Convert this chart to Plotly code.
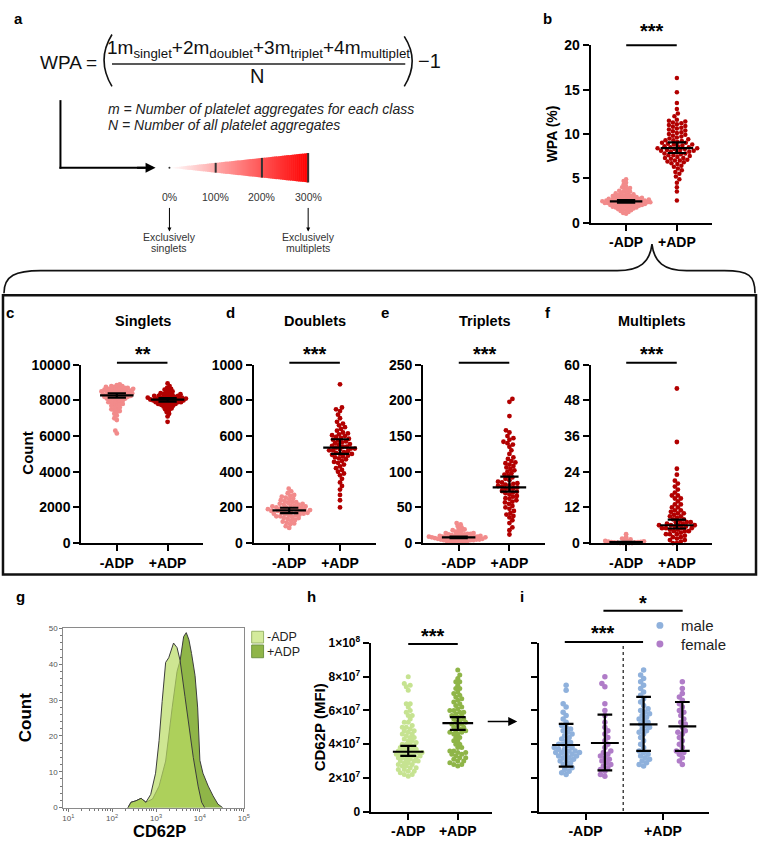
import math
import plotly.graph_objects as go

W, H = 764, 848
FONT = "Liberation Sans, Arial, sans-serif"


def X(p):
    return p / W


def Y(p):
    return 1 - p / H


# ---------------- data ----------------
groups = ["-ADP", "+ADP"]

# b: WPA (%)
wpa_minus = [1.0, 1.1, 1.2, 1.3, 1.4, 1.4, 1.5, 1.5, 1.6, 1.6, 1.7, 1.7, 1.7, 1.8, 1.8, 1.8, 1.9, 1.9, 1.9,
             2.0, 2.0, 2.0, 2.0, 2.1, 2.1, 2.1, 2.1, 2.2, 2.2, 2.2, 2.2, 2.2, 2.3, 2.3, 2.3, 2.3, 2.3, 2.4,
             2.4, 2.4, 2.4, 2.4, 2.5, 2.5, 2.5, 2.5, 2.5, 2.6, 2.6, 2.6, 2.6, 2.7, 2.7, 2.7, 2.7, 2.8, 2.8,
             2.8, 2.9, 2.9, 2.9, 3.0, 3.0, 3.0, 3.1, 3.1, 3.2, 3.2, 3.3, 3.3, 3.4, 3.5, 3.5, 3.6, 3.7, 3.8,
             3.9, 4.0, 4.1, 4.3, 4.5, 4.7, 4.9]
wpa_plus = [2.5, 3.5, 4.0, 4.5, 4.9, 5.2, 5.5, 5.7, 5.9, 6.1, 6.3, 6.4, 6.6, 6.7, 6.8, 6.9, 7.0, 7.0, 7.1,
            7.2, 7.3, 7.3, 7.4, 7.5, 7.6, 7.6, 7.7, 7.8, 7.8, 7.9, 8.0, 8.0, 8.1, 8.1, 8.2, 8.2, 8.3, 8.3,
            8.4, 8.4, 8.5, 8.5, 8.6, 8.6, 8.7, 8.8, 8.8, 8.9, 9.0, 9.0, 9.1, 9.2, 9.3, 9.3, 9.4, 9.5, 9.6,
            9.7, 9.8, 9.9, 10.0, 10.1, 10.2, 10.3, 10.4, 10.5, 10.6, 10.7, 10.8, 10.9, 11.0, 11.1, 11.2,
            11.3, 11.4, 11.5, 11.6, 12.0, 12.3, 12.8, 13.5, 14.7, 16.3]
wpa_center = [2.4, 8.4]
wpa_lo = [2.25, 7.85]
wpa_hi = [2.55, 9.05]

# c: singlets
singlets_minus = [6150, 6300, 6900, 7000, 7150, 7250, 7350, 7400, 7450, 7500, 7550, 7600, 7650, 7700, 7750,
                  7800, 7800, 7850, 7900, 7900, 7950, 8000, 8000, 8050, 8050, 8100, 8100, 8150, 8150, 8200,
                  8200, 8200, 8250, 8250, 8250, 8300, 8300, 8300, 8350, 8350, 8350, 8400, 8400, 8400, 8450,
                  8450, 8450, 8500, 8500, 8500, 8550, 8550, 8550, 8600, 8600, 8600, 8650, 8650, 8650, 8700,
                  8700, 8700, 8750, 8750, 8800, 8800, 8850, 8900]
singlets_plus = [6800, 7100, 7250, 7350, 7450, 7500, 7550, 7600, 7650, 7700, 7700, 7750, 7750, 7800, 7800,
                 7850, 7850, 7850, 7900, 7900, 7900, 7950, 7950, 7950, 8000, 8000, 8000, 8000, 8050, 8050,
                 8050, 8050, 8100, 8100, 8100, 8100, 8150, 8150, 8150, 8200, 8200, 8200, 8250, 8250, 8250,
                 8300, 8300, 8350, 8350, 8400, 8400, 8450, 8500, 8550, 8600, 8650, 8700, 8800, 8950]
singlets_center = [8280, 8040]
singlets_lo = [8150, 7930]
singlets_hi = [8400, 8130]

# d: doublets
doublets_minus = [85, 95, 105, 110, 115, 120, 125, 130, 135, 140, 140, 145, 150, 150, 155, 155, 160, 160, 165,
                  165, 170, 170, 170, 175, 175, 180, 180, 180, 185, 185, 185, 190, 190, 190, 195, 195, 200,
                  200, 200, 205, 205, 210, 210, 215, 215, 220, 220, 225, 230, 230, 235, 240, 245, 250, 255,
                  260, 265, 270, 280, 290, 305]
doublets_plus = [200, 240, 270, 300, 320, 340, 360, 380, 390, 400, 410, 420, 430, 440, 450, 455, 460, 470,
                 475, 480, 485, 490, 495, 500, 500, 505, 510, 515, 520, 520, 525, 530, 530, 535, 540, 540,
                 545, 550, 555, 560, 565, 570, 575, 580, 585, 590, 595, 600, 605, 610, 615, 620, 630, 640,
                 650, 660, 670, 680, 700, 720, 740, 750, 760, 890]
doublets_center = [183, 535]
doublets_lo = [168, 500]
doublets_hi = [198, 582]

# e: triplets
triplets_minus = [0, 1, 1, 2, 2, 3, 3, 3, 4, 4, 4, 5, 5, 5, 5, 6, 6, 6, 6, 7, 7, 7, 7, 8, 8, 8, 8, 8, 9, 9,
                  9, 9, 10, 10, 10, 11, 11, 11, 12, 12, 13, 13, 14, 14, 15, 16, 17, 18, 19, 20, 22, 24, 26, 28]
triplets_plus = [12, 18, 22, 28, 32, 36, 38, 40, 42, 45, 48, 50, 52, 55, 57, 58, 60, 62, 63, 65, 66, 68, 70,
                 71, 72, 73, 75, 76, 77, 78, 79, 80, 81, 82, 83, 84, 85, 86, 88, 90, 92, 94, 96, 98, 100, 102,
                 104, 106, 108, 110, 112, 113, 115, 118, 120, 125, 130, 135, 138, 140, 142, 145, 147, 150,
                 155, 158, 178, 198, 202]
triplets_center = [8, 78]
triplets_lo = [7, 72]
triplets_hi = [9, 93]

# f: multiplets
multiplets_minus = [0, 0, 0, 0, 0, 0.1, 0.2, 0.2, 0.3, 0.3, 0.4, 0.5, 0.6, 0.7, 0.8, 1.0, 1.2, 1.5, 2.0, 3.0]
multiplets_plus = [0, 0, 0.5, 1, 1, 1.5, 2, 2, 2.5, 3, 3, 3, 3.5, 4, 4, 4, 4.5, 4.5, 5, 5, 5, 5, 5.5, 5.5,
                   6, 6, 6, 6, 6.5, 6.5, 7, 7, 7, 7.5, 8, 8, 8.5, 9, 9, 9.5, 10, 10, 10.5, 11, 11, 12, 12,
                   13, 13, 14, 15, 15, 16, 16, 17, 18, 19, 20, 21, 23, 25, 34, 52]
multiplets_center = [0.3, 6.0]
multiplets_lo = [0.2, 4.9]
multiplets_hi = [0.4, 7.9]

# g: CD62P histogram (log10 fluorescence, count)
hist_logx_minus = [2.36, 2.43, 2.54, 2.66, 2.77, 2.88, 2.99, 3.07, 3.14, 3.22, 3.29, 3.40, 3.48, 3.55, 3.66,
                   3.74, 3.85, 3.96, 4.04, 4.11]
hist_count_minus = [0, 1.5, 1.9, 2.6, 1.5, 3.7, 9.6, 18.7, 29.6, 40.5, 41.8, 45.9, 44.6, 41, 31, 24, 14, 6,
                    1.5, 0]
hist_logx_plus = [2.36, 2.43, 2.54, 2.66, 2.77, 2.92, 3.07, 3.22, 3.37, 3.48, 3.55, 3.63, 3.69, 3.75, 3.81,
                  3.89, 3.95, 4.00, 4.07, 4.19, 4.30, 4.41, 4.52]
hist_count_plus = [0, 1.5, 1.9, 2.6, 1.5, 2.4, 6, 13, 28, 38, 41, 47.7, 48.8, 46.8, 43, 36.8, 27.8, 13.2,
                   9.6, 6, 3.3, 1, 0]

# i / h: CD62P MFI (x 1e7) split by sex
male_minus = [2.2, 2.3, 2.4, 2.5, 2.6, 2.7, 2.8, 2.9, 3.0, 3.0, 3.1, 3.2, 3.2, 3.3, 3.3, 3.4, 3.4, 3.5, 3.5,
              3.5, 3.6, 3.6, 3.7, 3.7, 3.8, 3.8, 3.9, 4.0, 4.0, 4.1, 4.2, 4.3, 4.4, 4.5, 4.6, 4.7, 4.8, 4.9,
              5.0, 5.1, 5.3, 5.5, 5.7, 5.9, 6.2, 6.4, 7.2, 7.5]
female_minus = [2.1, 2.2, 2.4, 2.5, 2.6, 2.7, 2.8, 2.9, 3.0, 3.1, 3.2, 3.3, 3.4, 3.5, 3.6, 3.8, 4.0, 4.2,
                4.4, 4.6, 4.8, 5.0, 5.3, 5.7, 6.0, 6.4, 7.4, 7.6, 8.0]
male_plus = [2.7, 2.8, 2.9, 3.0, 3.1, 3.2, 3.3, 3.4, 3.5, 3.6, 3.8, 4.0, 4.2, 4.4, 4.6, 4.7, 4.8, 4.9, 5.0,
             5.1, 5.2, 5.3, 5.4, 5.5, 5.6, 5.7, 5.8, 5.9, 6.0, 6.1, 6.3, 6.5, 6.7, 6.9, 7.1, 7.3, 7.5, 7.7,
             7.9, 8.1, 8.4]
female_plus = [2.8, 3.0, 3.2, 3.4, 3.5, 3.6, 3.8, 4.0, 4.2, 4.4, 4.6, 4.7, 4.8, 5.0, 5.2, 5.3, 5.5, 5.7,
               5.9, 6.0, 6.2, 6.4, 6.6, 6.8, 7.0, 7.3, 7.7]
mfi_center = [3.55, 5.25]
mfi_lo = [3.3, 4.85]
mfi_hi = [3.9, 5.6]
sex_mean = [3.95, 4.07, 5.17, 5.06]
sex_sd_lo = [2.67, 2.44, 3.6, 3.6]
sex_sd_hi = [5.2, 5.75, 6.8, 6.5]

mfi_ticks = [0, 2, 4, 6, 8, 10]
mfi_ticktext = ["0", "2×10<sup>7</sup>", "4×10<sup>7</sup>", "6×10<sup>7</sup>", "8×10<sup>7</sup>",
                "1×10<sup>8</sup>"]
wedge_labels = ["0%", "100%", "200%", "300%"]

# ---------------- colours ----------------
C_LIGHT_RED = "#f28b8b"
C_DARK_RED = "#b20000"
C_LIGHT_GREEN = "#c6e391"
C_DARK_GREEN = "#8fb548"
C_BLUE = "#8fb1dc"
C_PURPLE = "#b07cc8"

fig = go.Figure()
lay = {}
annotations = []
shapes = []


def axis_pair(n, x0, x1, y0, y1, xr, yr, ytickvals, yticktext=None, xtickvals=(0, 1), xticktext=groups,
              ytl=True):
    s = "" if n == 1 else str(n)
    tf = dict(family=FONT, size=14, color="black", weight="bold")
    lay["xaxis" + s] = dict(domain=[X(x0), X(x1)], range=xr, anchor="y" + s, showline=True, linecolor="black",
                            linewidth=2, ticks="outside", ticklen=6, tickwidth=2, tickcolor="black",
                            tickvals=list(xtickvals), ticktext=list(xticktext), tickfont=tf, showgrid=False,
                            zeroline=False, fixedrange=True)
    if yticktext is None:
        yticktext = [str(v) for v in ytickvals]
    lay["yaxis" + s] = dict(domain=[Y(y1), Y(y0)], range=yr, anchor="x" + s, showline=True, linecolor="black",
                            linewidth=2, ticks="outside", ticklen=6, tickwidth=2, tickcolor="black",
                            tickvals=list(ytickvals), ticktext=list(yticktext), tickfont=tf, showgrid=False,
                            zeroline=False, fixedrange=True, showticklabels=ytl)
    return (x1 - x0) / (xr[1] - xr[0]), (y1 - y0) / (yr[1] - yr[0])


def swarm(values, center, ppx, ppy, d):
    idx = sorted(range(len(values)), key=lambda i: values[i])
    placed = []
    out = [0.0] * len(values)
    for n, i in enumerate(idx):
        yv = values[i] * ppy
        near = [(a, b) for (a, b) in placed if abs(b - yv) < d]
        best = None
        k = 0
        sign = 1 if n % 2 == 0 else -1
        while best is None:
            cands = [0.0] if k == 0 else [sign * k * 0.5, -sign * k * 0.5]
            for off in cands:
                if all((off - a) ** 2 + (yv - b) ** 2 >= d * d for a, b in near):
                    best = off
                    break
            k += 1
        placed.append((best, yv))
        out[i] = center + best / ppx
    return out


def add_swarm(n, values, center, ppx, ppy, color, size=4.5, d=3.0):
    s = "" if n == 1 else str(n)
    xs = swarm(values, center, ppx, ppy, d)
    fig.add_trace(go.Scatter(x=xs, y=values, xaxis="x" + s, yaxis="y" + s, mode="markers",
                             marker=dict(size=size, color=color, line=dict(width=0)), cliponaxis=False,
                             hoverinfo="skip"))


def add_errbar(n, center, mid, lo, hi, half_w, cap_w, width=2.2):
    s = "" if n == 1 else str(n)
    xs = [center - half_w, center + half_w, None, center, center, None, center - cap_w, center + cap_w, None,
          center - cap_w, center + cap_w]
    ys = [mid, mid, None, lo, hi, None, lo, lo, None, hi, hi]
    fig.add_trace(go.Scatter(x=xs, y=ys, xaxis="x" + s, yaxis="y" + s, mode="lines",
                             line=dict(color="black", width=width), cliponaxis=False, hoverinfo="skip"))


def text(x, y, t, size=14, bold=False, color="black", xanchor="center", angle=0):
    annotations.append(dict(x=X(x), y=Y(y), xref="paper", yref="paper", text=t, showarrow=False,
                            xanchor=xanchor, yanchor="middle", textangle=angle,
                            font=dict(family=FONT, size=size, color=color,
                                      weight="bold" if bold else "normal")))


def hline(x0, x1, y, width=2, color="black", dash="solid"):
    shapes.append(dict(type="line", xref="paper", yref="paper", x0=X(x0), x1=X(x1), y0=Y(y), y1=Y(y),
                       line=dict(width=width, color=color, dash=dash)))


def vline(x, y0, y1, width=2, color="black", dash="solid"):
    shapes.append(dict(type="line", xref="paper", yref="paper", x0=X(x), x1=X(x), y0=Y(y0), y1=Y(y1),
                       line=dict(width=width, color=color, dash=dash)))


def P(x, y):
    return f"{X(x):.5f},{Y(y):.5f}"


def path(d, width=1.5, color="black", fill=None):
    sh = dict(type="path", xref="paper", yref="paper", path=d, line=dict(width=width, color=color))
    if fill:
        sh["fillcolor"] = fill
    shapes.append(sh)


def arrow(xh, yh, ax, ay, width=2, size=1.0, head=2):
    annotations.append(dict(x=X(xh), y=Y(yh), xref="paper", yref="paper", text="", showarrow=True, ax=ax, ay=ay,
                            arrowhead=head, arrowsize=size, arrowwidth=width, arrowcolor="black"))


XR = [-0.7, 1.7]

# ---------------- panel b ----------------
ppx, ppy = axis_pair(1, 595, 718, 37, 218, XR, [0, 20], [0, 5, 10, 15, 20])
add_swarm(1, wpa_minus, 0, ppx, ppy, C_LIGHT_RED, size=4.5, d=3.0)
add_swarm(1, wpa_plus, 1, ppx, ppy, C_DARK_RED, size=4.5, d=4.2)
for k in range(2):
    add_errbar(1, k, wpa_center[k], wpa_lo[k], wpa_hi[k], 0.32, 0.18)

# ---------------- panels c-f ----------------
cf = [
    (2, 81, singlets_minus, singlets_plus, singlets_center, singlets_lo, singlets_hi, [0, 10000],
     [0, 2000, 4000, 6000, 8000, 10000], 3.0, 3.0),
    (3, 255, doublets_minus, doublets_plus, doublets_center, doublets_lo, doublets_hi, [0, 1000],
     [0, 200, 400, 600, 800, 1000], 3.7, 4.0),
    (4, 426, triplets_minus, triplets_plus, triplets_center, triplets_lo, triplets_hi, [0, 250],
     [0, 50, 100, 150, 200, 250], 3.0, 4.0),
    (5, 595, multiplets_minus, multiplets_plus, multiplets_center, multiplets_lo, multiplets_hi, [0, 60],
     [0, 12, 24, 36, 48, 60], 2.8, 4.0),
]
for n, x0, vm, vp, cen, lo, hi, yr, yt, dm, dp in cf:
    ppx, ppy = axis_pair(n, x0, x0 + 123, 363, 545, XR, yr, yt)
    add_swarm(n, vm, 0, ppx, ppy, C_LIGHT_RED, size=4.8, d=dm)
    add_swarm(n, vp, 1, ppx, ppy, C_DARK_RED, size=4.8, d=dp)
    for k in range(2):
        add_errbar(n, k, cen[k], lo[k], hi[k], 0.33, 0.18)

# ---------------- panel g (histogram) ----------------
gx0, gx1, gy0, gy1 = 63, 245, 632, 815
minor_x = [math.log10(k * 10 ** e) for e in range(0, 5) for k in range(2, 10)]
minor_x = [v for v in minor_x if 0.89 <= v <= 5.0]
lay["xaxis6"] = dict(domain=[X(gx0), X(gx1)], range=[0.89, 5.0], anchor="y6", showline=True, mirror=True,
                     linecolor="#8a8a8a", linewidth=1.2, ticks="outside", ticklen=3, tickwidth=1,
                     tickcolor="#777", tickvals=[1, 2, 3, 4, 5],
                     ticktext=["10<sup>1</sup>", "10<sup>2</sup>", "10<sup>3</sup>", "10<sup>4</sup>",
                               "10<sup>5</sup>"],
                     tickfont=dict(family=FONT, size=8, color="#555"),
                     minor=dict(tickvals=minor_x, ticks="outside", ticklen=2, tickcolor="#777", tickwidth=1),
                     showgrid=False, zeroline=False, fixedrange=True)
lay["yaxis6"] = dict(domain=[Y(gy1), Y(gy0)], range=[0, 50], anchor="x6", showline=True, mirror=True,
                     linecolor="#8a8a8a", linewidth=1.2, ticks="outside", ticklen=3, tickwidth=1,
                     tickcolor="#777", tickvals=[0, 10, 20, 30, 40, 50],
                     tickfont=dict(family=FONT, size=8, color="#555"),
                     minor=dict(dtick=2, ticks="outside", ticklen=2, tickcolor="#777", tickwidth=1),
                     showgrid=False, zeroline=False, fixedrange=True)
fig.add_trace(go.Scatter(x=hist_logx_plus, y=hist_count_plus, xaxis="x6", yaxis="y6", mode="lines",
                         fill="tozeroy", fillcolor=C_DARK_GREEN, line=dict(color="#3c3c3c", width=1),
                         hoverinfo="skip"))
fig.add_trace(go.Scatter(x=hist_logx_minus, y=hist_count_minus, xaxis="x6", yaxis="y6", mode="lines",
                         fill="tozeroy", fillcolor="rgba(185,220,100,0.7)", line=dict(color="#3c3c3c", width=1),
                         hoverinfo="skip"))

# ---------------- panel h ----------------
XRH = [-0.76, 1.7]
ppx, ppy = axis_pair(7, 373, 496, 647, 819, XRH, [0, 10], mfi_ticks, mfi_ticktext)
lay["yaxis7"]["tickfont"] = dict(family=FONT, size=12, color="black", weight="bold")
add_swarm(7, male_minus + female_minus, 0, ppx, ppy, C_LIGHT_GREEN, size=5, d=3.9)
add_swarm(7, male_plus + female_plus, 1, ppx, ppy, C_DARK_GREEN, size=5, d=3.9)
for k in range(2):
    add_errbar(7, k, mfi_center[k], mfi_lo[k], mfi_hi[k], 0.31, 0.16)

# ---------------- panel i ----------------
XRI = [-0.6, 1.6]
ppx, ppy = axis_pair(8, 543, 715, 647, 819, XRI, [0, 10], mfi_ticks, ytl=False)
sex_groups = [(male_minus, -0.25, C_BLUE), (female_minus, 0.25, C_PURPLE),
              (male_plus, 0.75, C_BLUE), (female_plus, 1.25, C_PURPLE)]
for k, (vals, cx, col) in enumerate(sex_groups):
    add_swarm(8, vals, cx, ppx, ppy, col, size=5.5, d=4.4)
    add_errbar(8, cx, sex_mean[k], sex_sd_lo[k], sex_sd_hi[k], 0.18, 0.095)

lay_fig = dict(width=W, height=H, margin=dict(l=0, r=0, t=0, b=0), paper_bgcolor="white",
               plot_bgcolor="rgba(0,0,0,0)", showlegend=False, font=dict(family=FONT))

# ---------------- panel a (formula & scale) ----------------
text(18, 10, "a", 15, bold=True)
text(37, 55, "WPA =", 19, xanchor="left", color="#111")
path(f"M{P(112, 26)} Q{P(96, 52)} {P(112, 79)}", width=1.6, color="#111")
path(f"M{P(407, 28)} Q{P(423, 53)} {P(407, 79)}", width=1.6, color="#111")
text(260, 41, "1m<sub>singlet</sub>+2m<sub>doublet</sub>+3m<sub>triplet</sub>+4m<sub>multiplet</sub>", 19,
     color="#111")
hline(112, 408, 56, width=1.5, color="#222")
text(258, 68, "N", 20, color="#111")
text(419, 53, "−1", 20, xanchor="left", color="#111")
text(106, 102, "<i>m = Number of platelet aggregates for each class</i>", 14, xanchor="left", color="#222")
text(106, 118, "<i>N = Number of all platelet aggregates</i>", 14, xanchor="left", color="#222")
# L-shaped arrow
vline(60, 93, 163, width=2)
hline(59, 146, 162, width=2)
arrow(156, 162, -20, 0, width=2, size=1.0, head=2)

# gradient wedge
x_tip, x_end, yc, hh = 170, 310, 162, 15
nslices = 70
for k in range(nslices):
    xa = x_tip + (x_end - x_tip) * k / nslices
    xb = x_tip + (x_end - x_tip) * (k + 1) / nslices + 0.6
    xb = min(xb, x_end)
    ha = hh * (xa - x_tip) / (x_end - x_tip)
    hb = hh * (xb - x_tip) / (x_end - x_tip)
    t = (k + 0.5) / nslices
    g = int(round(255 * (1 - t)))
    col = f"rgb(255,{g},{g})"
    path(f"M{P(xa, yc - ha)} L{P(xb, yc - hb)} L{P(xb, yc + hb)} L{P(xa, yc + ha)} Z", width=0, color=col,
         fill=col)
shapes.append(dict(type="circle", xref="paper", yref="paper", x0=X(169), x1=X(171), y0=Y(163), y1=Y(161),
                   line=dict(width=0), fillcolor="#333"))
for k, lab in enumerate(wedge_labels):
    xm = x_tip + (x_end - x_tip) * k / 3
    if k > 0:
        hm = hh * (xm - x_tip) / (x_end - x_tip)
        vline(xm, yc - hm, yc + hm, width=2, color="#333")
    text(xm, 192, lab, 10.5, color="#333")
for xm in (x_tip, x_end):
    arrow(xm, 227, 0, -25, width=1, size=0.8, head=2)
text(170, 233, "Exclusively", 10.5, color="#333")
text(170, 244, "singlets", 10.5, color="#333")
text(310, 233, "Exclusively", 10.5, color="#333")
text(310, 244, "multiplets", 10.5, color="#333")

# panel b decorations
text(552, 10, "b", 15, bold=True)
text(557, 127, "WPA (%)", 14, bold=True, angle=-90)
hline(631, 682, 37, width=2)
text(657, 22, "***", 20, bold=True)

# brace
path(f"M{P(3, 290)} C{P(3, 272)} {P(15, 267)} {P(40, 267)} L{P(622, 267)} "
     f"C{P(645, 267)} {P(655, 258)} {P(657, 240)} C{P(659, 258)} {P(669, 267)} {P(692, 267)} "
     f"L{P(730, 267)} C{P(755, 267)} {P(761, 272)} {P(761, 290)}", width=1.6, color="#111")
# box
shapes.append(dict(type="rect", xref="paper", yref="paper", x0=X(2), x1=X(762), y0=Y(577), y1=Y(292),
                   line=dict(width=2.5, color="#111")))

# panels c-f decorations
for lab, lx, title, tx, stars, xa in [("c", 9, "Singlets", 143, "**", 117), ("d", 232, "Doublets", 317, "***", 291),
                                      ("e", 388, "Triplets", 488, "***", 462),
                                      ("f", 552, "Multiplets", 657, "***", 631)]:
    text(lx, 310, lab, 15, bold=True)
    text(tx, 318, title, 14.5, bold=True)
    hline(xa, xa + 51, 361, width=2)
    text(tx, 352, stars, 20, bold=True)
text(27, 453, "Count", 15, bold=True, angle=-90)

# panel g decorations
text(20, 600, "g", 15, bold=True)
text(25, 723, "Count", 17, bold=True, angle=-90)
text(160, 839, "CD62P", 16.5, bold=True)
shapes.append(dict(type="rect", xref="paper", yref="paper", x0=X(253), x1=X(265), y0=Y(647), y1=Y(635),
                   line=dict(width=1, color="#9ab56a"), fillcolor="#d4eb9c"))
shapes.append(dict(type="rect", xref="paper", yref="paper", x0=X(253), x1=X(265), y0=Y(662), y1=Y(649),
                   line=dict(width=1, color="#6f9440"), fillcolor=C_DARK_GREEN))
text(266, 641, "-ADP", 12.5, xanchor="left", color="#222")
text(266, 656, "+ADP", 12.5, xanchor="left", color="#222")

# panel h decorations
text(313, 600, "h", 15, bold=True)
text(321, 733, "CD62P (MFI)", 15, bold=True, angle=-90)
hline(411, 461, 648, width=2)
text(436, 640, "***", 20, bold=True)
arrow(521, 727, -31, 0, width=1.5, size=1.2, head=2)

# panel i decorations
text(526, 600, "i", 15, bold=True)
vline(628, 650, 819, width=1.5, color="#444", dash="dot")
hline(569, 648, 646, width=2)
text(608, 637, "***", 20, bold=True)
hline(608, 688, 614, width=2)
text(648, 606, "*", 20, bold=True)
shapes.append(dict(type="circle", xref="paper", yref="paper", x0=X(661.5), x1=X(668.5), y0=Y(632.5),
                   y1=Y(625.5), line=dict(width=0), fillcolor=C_BLUE))
shapes.append(dict(type="circle", xref="paper", yref="paper", x0=X(661.5), x1=X(668.5), y0=Y(651.5),
                   y1=Y(644.5), line=dict(width=0), fillcolor=C_PURPLE))
text(684, 629, "male", 15, xanchor="left", color="#222")
text(684, 648, "female", 15, xanchor="left", color="#222")

lay_fig.update(lay)
lay_fig["annotations"] = annotations
lay_fig["shapes"] = shapes
fig.update_layout(**lay_fig)
fig.write_html("out.html")
